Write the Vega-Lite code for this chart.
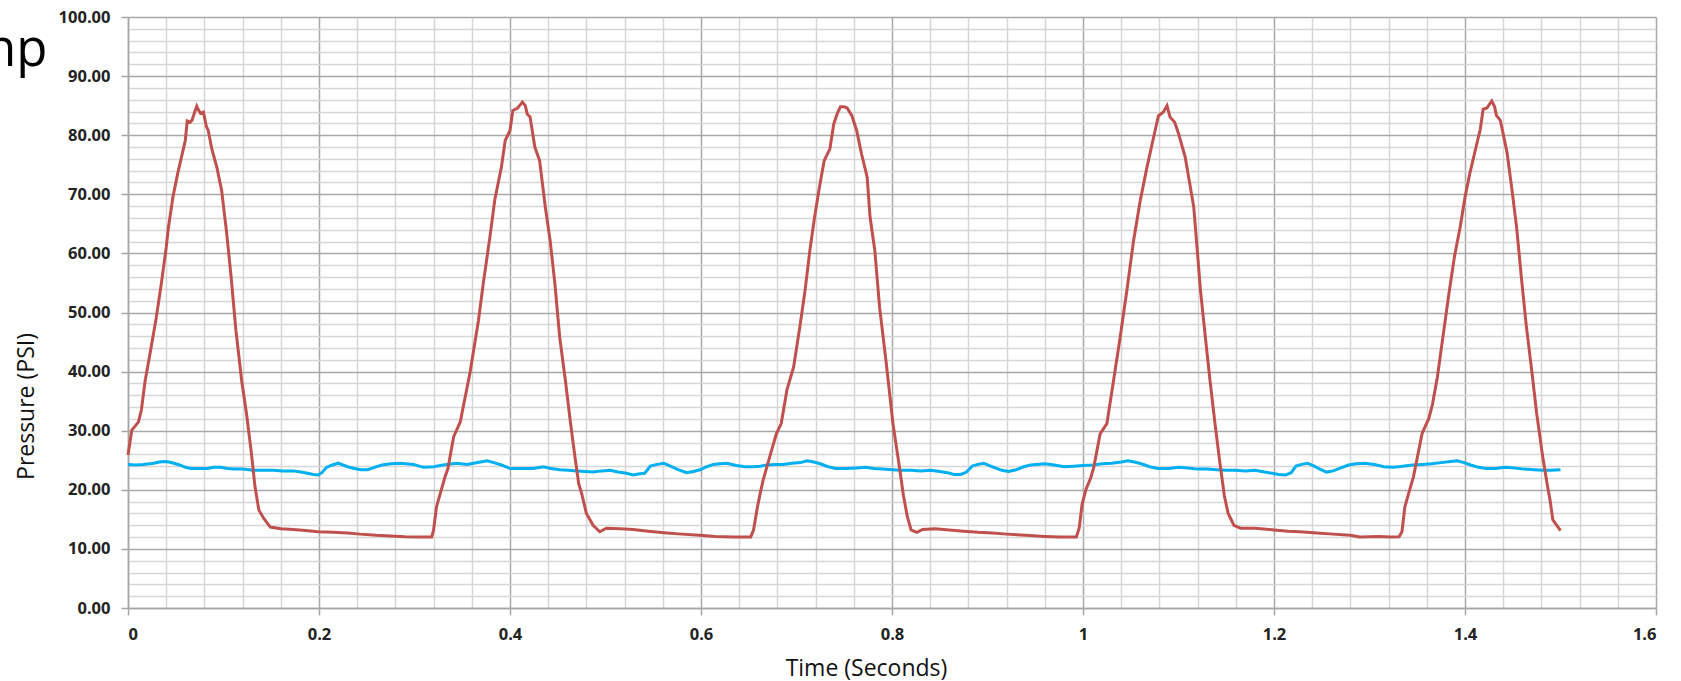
{
  "$schema": "https://vega.github.io/schema/vega-lite/v6.json",
  "width": 1528,
  "height": 591,
  "autosize": {"type": "none"},
  "padding": {"left": 128, "top": 17, "right": 25, "bottom": 73},
  "background": "white",
  "title": {"text": "np", "orient": "top", "anchor": "start", "frame": "group", "baseline": "alphabetic", "offset": -57, "dy": 51, "dx": -143, "font": "Open Sans", "fontSize": 51, "fontWeight": "normal", "color": "#000000"},
  "config": {"view": {"stroke": null}},
  "datasets": {
    "blue": [
      {"t":0.000,"p":24.3},{"t":0.008,"p":24.2},{"t":0.016,"p":24.3},{"t":0.027,"p":24.5},{"t":0.033,"p":24.7},{"t":0.038,"p":24.8},{"t":0.043,"p":24.7},{"t":0.048,"p":24.5},{"t":0.054,"p":24.2},{"t":0.060,"p":23.8},{"t":0.066,"p":23.6},{"t":0.075,"p":23.6},{"t":0.083,"p":23.6},{"t":0.090,"p":23.8},{"t":0.097,"p":23.8},{"t":0.104,"p":23.6},{"t":0.111,"p":23.5},{"t":0.120,"p":23.5},{"t":0.131,"p":23.3},{"t":0.142,"p":23.3},{"t":0.152,"p":23.3},{"t":0.162,"p":23.2},{"t":0.173,"p":23.2},{"t":0.181,"p":23.0},{"t":0.188,"p":22.8},{"t":0.194,"p":22.6},{"t":0.199,"p":22.5},{"t":0.203,"p":22.9},{"t":0.208,"p":23.8},{"t":0.214,"p":24.2},{"t":0.220,"p":24.5},{"t":0.225,"p":24.2},{"t":0.230,"p":23.9},{"t":0.237,"p":23.6},{"t":0.244,"p":23.4},{"t":0.251,"p":23.4},{"t":0.258,"p":23.8},{"t":0.266,"p":24.2},{"t":0.275,"p":24.4},{"t":0.285,"p":24.5},{"t":0.299,"p":24.3},{"t":0.305,"p":24.0},{"t":0.310,"p":23.8},{"t":0.320,"p":23.9},{"t":0.330,"p":24.2},
      {"t":0.344,"p":24.5},{"t":0.355,"p":24.3},{"t":0.362,"p":24.5},{"t":0.369,"p":24.7},{"t":0.376,"p":24.9},{"t":0.383,"p":24.6},{"t":0.391,"p":24.2},{"t":0.400,"p":23.6},{"t":0.412,"p":23.6},{"t":0.424,"p":23.6},{"t":0.435,"p":23.9},{"t":0.443,"p":23.6},{"t":0.452,"p":23.4},{"t":0.461,"p":23.3},{"t":0.470,"p":23.2},{"t":0.479,"p":23.1},{"t":0.487,"p":23.0},{"t":0.496,"p":23.2},{"t":0.505,"p":23.3},{"t":0.513,"p":23.0},{"t":0.522,"p":22.8},{"t":0.529,"p":22.5},{"t":0.536,"p":22.7},{"t":0.541,"p":22.8},{"t":0.547,"p":24.0},{"t":0.554,"p":24.3},{"t":0.561,"p":24.5},{"t":0.568,"p":24.0},{"t":0.576,"p":23.4},{"t":0.585,"p":22.9},{"t":0.592,"p":23.1},{"t":0.599,"p":23.4},{"t":0.606,"p":23.9},{"t":0.613,"p":24.3},{"t":0.620,"p":24.4},{"t":0.627,"p":24.5},{"t":0.637,"p":24.1},{"t":0.646,"p":23.9},{"t":0.655,"p":23.9},{"t":0.662,"p":24.0},{"t":0.669,"p":24.2},
      {"t":0.678,"p":24.3},{"t":0.686,"p":24.3},{"t":0.695,"p":24.5},{"t":0.704,"p":24.6},{"t":0.711,"p":24.9},{"t":0.718,"p":24.7},{"t":0.725,"p":24.4},{"t":0.733,"p":23.9},{"t":0.741,"p":23.6},{"t":0.752,"p":23.6},{"t":0.763,"p":23.7},{"t":0.772,"p":23.8},{"t":0.781,"p":23.6},{"t":0.790,"p":23.5},{"t":0.800,"p":23.4},{"t":0.810,"p":23.3},{"t":0.820,"p":23.3},{"t":0.830,"p":23.2},{"t":0.840,"p":23.3},{"t":0.850,"p":23.1},{"t":0.858,"p":22.9},{"t":0.865,"p":22.6},{"t":0.872,"p":22.6},{"t":0.878,"p":23.0},{"t":0.884,"p":24.0},{"t":0.890,"p":24.3},{"t":0.896,"p":24.5},{"t":0.902,"p":24.1},{"t":0.908,"p":23.7},{"t":0.915,"p":23.3},{"t":0.922,"p":23.1},{"t":0.930,"p":23.4},{"t":0.938,"p":23.9},{"t":0.945,"p":24.2},{"t":0.951,"p":24.3},{"t":0.960,"p":24.4},{"t":0.970,"p":24.2},{"t":0.980,"p":23.9},{"t":0.990,"p":24.0},{"t":1.000,"p":24.1},{"t":1.010,"p":24.2},
      {"t":1.020,"p":24.4},{"t":1.030,"p":24.5},{"t":1.040,"p":24.7},{"t":1.047,"p":24.9},{"t":1.054,"p":24.7},{"t":1.061,"p":24.4},{"t":1.070,"p":23.9},{"t":1.078,"p":23.6},{"t":1.090,"p":23.6},{"t":1.100,"p":23.8},{"t":1.110,"p":23.7},{"t":1.120,"p":23.5},{"t":1.130,"p":23.5},{"t":1.140,"p":23.4},{"t":1.150,"p":23.3},{"t":1.160,"p":23.3},{"t":1.170,"p":23.2},{"t":1.180,"p":23.3},{"t":1.190,"p":23.0},{"t":1.198,"p":22.8},{"t":1.205,"p":22.6},{"t":1.212,"p":22.5},{"t":1.218,"p":22.9},{"t":1.223,"p":24.0},{"t":1.229,"p":24.3},{"t":1.235,"p":24.5},{"t":1.241,"p":24.1},{"t":1.248,"p":23.5},{"t":1.255,"p":23.0},{"t":1.262,"p":23.2},{"t":1.270,"p":23.7},{"t":1.278,"p":24.2},{"t":1.286,"p":24.4},{"t":1.295,"p":24.5},{"t":1.305,"p":24.3},{"t":1.315,"p":23.9},{"t":1.325,"p":23.8},{"t":1.335,"p":24.0},{"t":1.345,"p":24.2},
      {"t":1.356,"p":24.3},{"t":1.365,"p":24.4},{"t":1.375,"p":24.6},{"t":1.385,"p":24.8},{"t":1.392,"p":24.9},{"t":1.399,"p":24.6},{"t":1.406,"p":24.2},{"t":1.414,"p":23.8},{"t":1.422,"p":23.6},{"t":1.432,"p":23.6},{"t":1.442,"p":23.8},{"t":1.452,"p":23.7},{"t":1.462,"p":23.5},{"t":1.472,"p":23.4},{"t":1.482,"p":23.3},{"t":1.490,"p":23.3},{"t":1.500,"p":23.4}
    ],
    "red": [
      {"t":0.000,"p":25.9},{"t":0.004,"p":30.1},{"t":0.011,"p":31.5},{"t":0.014,"p":33.5},{"t":0.018,"p":38.5},{"t":0.023,"p":43.0},{"t":0.029,"p":48.5},{"t":0.035,"p":55.0},{"t":0.040,"p":61.0},{"t":0.042,"p":64.0},{"t":0.047,"p":69.5},{"t":0.052,"p":73.5},{"t":0.056,"p":76.3},{"t":0.060,"p":79.1},{"t":0.062,"p":82.4},{"t":0.065,"p":82.2},{"t":0.067,"p":82.5},{"t":0.070,"p":84.0},{"t":0.072,"p":84.9},{"t":0.074,"p":84.2},{"t":0.076,"p":83.7},{"t":0.079,"p":83.9},{"t":0.082,"p":81.5},{"t":0.084,"p":80.8},{"t":0.088,"p":77.5},{"t":0.093,"p":74.6},{"t":0.098,"p":70.7},{"t":0.103,"p":63.9},{"t":0.108,"p":56.0},{"t":0.113,"p":47.0},{"t":0.119,"p":38.5},{"t":0.124,"p":33.0},{"t":0.129,"p":26.5},{"t":0.133,"p":20.5},{"t":0.137,"p":16.6},{"t":0.142,"p":15.2},{"t":0.149,"p":13.7},{"t":0.160,"p":13.4},{"t":0.173,"p":13.3},{"t":0.186,"p":13.1},{"t":0.199,"p":12.9},{"t":0.215,"p":12.8},{"t":0.230,"p":12.7},{"t":0.243,"p":12.5},{"t":0.260,"p":12.3},{"t":0.275,"p":12.2},{"t":0.290,"p":12.05},{"t":0.305,"p":12.0},{"t":0.318,"p":12.0},
      {"t":0.320,"p":13.2},{"t":0.323,"p":17.1},{"t":0.327,"p":19.4},{"t":0.332,"p":22.2},{"t":0.335,"p":23.6},{"t":0.341,"p":29.0},{"t":0.348,"p":31.5},{"t":0.351,"p":34.0},{"t":0.358,"p":39.7},{"t":0.367,"p":48.7},{"t":0.372,"p":54.9},{"t":0.379,"p":62.8},{"t":0.384,"p":69.0},{"t":0.391,"p":74.6},{"t":0.395,"p":79.1},{"t":0.400,"p":80.8},{"t":0.403,"p":84.2},{"t":0.408,"p":84.6},{"t":0.410,"p":85.0},{"t":0.413,"p":85.6},{"t":0.416,"p":85.0},{"t":0.418,"p":83.6},{"t":0.421,"p":83.1},{"t":0.426,"p":78.0},{"t":0.431,"p":75.7},{"t":0.437,"p":67.8},{"t":0.442,"p":62.2},{"t":0.447,"p":54.9},{"t":0.452,"p":45.9},{"t":0.458,"p":38.5},{"t":0.463,"p":31.8},{"t":0.468,"p":25.6},{"t":0.472,"p":21.0},{"t":0.475,"p":19.4},{"t":0.480,"p":16.0},{"t":0.487,"p":14.0},{"t":0.494,"p":12.9},{"t":0.501,"p":13.5},{"t":0.515,"p":13.4},{"t":0.529,"p":13.3},{"t":0.545,"p":13.0},{"t":0.564,"p":12.7},{"t":0.580,"p":12.5},{"t":0.599,"p":12.3},{"t":0.615,"p":12.1},{"t":0.634,"p":12.0},{"t":0.652,"p":12.0},
      {"t":0.655,"p":13.2},{"t":0.659,"p":17.0},{"t":0.662,"p":19.4},{"t":0.665,"p":21.6},{"t":0.672,"p":25.6},{"t":0.679,"p":29.5},{"t":0.684,"p":31.2},{"t":0.690,"p":36.9},{"t":0.697,"p":40.8},{"t":0.704,"p":48.1},{"t":0.709,"p":53.8},{"t":0.714,"p":60.5},{"t":0.719,"p":66.2},{"t":0.724,"p":71.2},{"t":0.729,"p":75.7},{"t":0.735,"p":77.7},{"t":0.739,"p":81.9},{"t":0.743,"p":83.8},{"t":0.746,"p":84.8},{"t":0.750,"p":84.8},{"t":0.753,"p":84.6},{"t":0.758,"p":83.3},{"t":0.763,"p":80.8},{"t":0.768,"p":76.9},{"t":0.774,"p":72.9},{"t":0.777,"p":66.2},{"t":0.782,"p":60.5},{"t":0.787,"p":50.9},{"t":0.794,"p":41.4},{"t":0.801,"p":31.2},{"t":0.808,"p":23.6},{"t":0.812,"p":19.0},{"t":0.816,"p":15.5},{"t":0.820,"p":13.2},{"t":0.826,"p":12.8},{"t":0.832,"p":13.3},{"t":0.845,"p":13.4},{"t":0.860,"p":13.2},{"t":0.875,"p":13.0},{"t":0.890,"p":12.8},{"t":0.905,"p":12.7},{"t":0.920,"p":12.5},{"t":0.940,"p":12.3},{"t":0.960,"p":12.1},{"t":0.975,"p":12.0},{"t":0.993,"p":12.0},
      {"t":0.996,"p":13.5},{"t":0.999,"p":17.5},{"t":1.003,"p":20.0},{"t":1.008,"p":22.0},{"t":1.011,"p":23.6},{"t":1.018,"p":29.5},{"t":1.025,"p":31.2},{"t":1.032,"p":38.5},{"t":1.039,"p":45.9},{"t":1.046,"p":53.8},{"t":1.053,"p":62.2},{"t":1.060,"p":69.0},{"t":1.067,"p":74.6},{"t":1.074,"p":79.7},{"t":1.079,"p":83.3},{"t":1.084,"p":83.9},{"t":1.088,"p":85.0},{"t":1.091,"p":83.1},{"t":1.096,"p":82.2},{"t":1.100,"p":80.3},{"t":1.107,"p":76.3},{"t":1.116,"p":67.8},{"t":1.123,"p":53.8},{"t":1.128,"p":46.0},{"t":1.133,"p":38.5},{"t":1.138,"p":31.5},{"t":1.143,"p":25.0},{"t":1.148,"p":19.0},{"t":1.152,"p":16.0},{"t":1.158,"p":14.0},{"t":1.165,"p":13.5},{"t":1.180,"p":13.5},{"t":1.200,"p":13.2},{"t":1.215,"p":13.0},{"t":1.227,"p":12.9},{"t":1.245,"p":12.7},{"t":1.262,"p":12.5},{"t":1.280,"p":12.3},{"t":1.290,"p":12.0},{"t":1.310,"p":12.1},{"t":1.322,"p":12.0},{"t":1.331,"p":12.05},
      {"t":1.334,"p":12.9},{"t":1.337,"p":17.1},{"t":1.341,"p":19.4},{"t":1.346,"p":22.2},{"t":1.351,"p":26.2},{"t":1.355,"p":29.5},{"t":1.359,"p":31.0},{"t":1.362,"p":32.0},{"t":1.366,"p":34.5},{"t":1.371,"p":39.0},{"t":1.377,"p":46.0},{"t":1.383,"p":53.0},{"t":1.389,"p":59.5},{"t":1.395,"p":64.5},{"t":1.400,"p":69.5},{"t":1.405,"p":73.5},{"t":1.412,"p":78.3},{"t":1.416,"p":81.0},{"t":1.419,"p":84.4},{"t":1.423,"p":84.6},{"t":1.428,"p":85.8},{"t":1.431,"p":84.8},{"t":1.433,"p":83.3},{"t":1.437,"p":82.5},{"t":1.444,"p":77.1},{"t":1.449,"p":71.0},{"t":1.454,"p":64.5},{"t":1.459,"p":56.0},{"t":1.464,"p":48.0},{"t":1.470,"p":40.0},{"t":1.475,"p":33.0},{"t":1.481,"p":26.0},{"t":1.486,"p":21.0},{"t":1.489,"p":18.3},{"t":1.492,"p":14.9},{"t":1.500,"p":13.1}
    ]
  },
  "layer": [
    {
      "data": {"name": "blue"},
      "mark": {"type": "line", "color": "#00B0F0", "strokeWidth": 3},
      "encoding": {
        "x": {"field": "t", "type": "quantitative", "scale": {"domain": [0, 1.6], "nice": false, "zero": true},
          "axis": {"orient": "bottom", "grid": true, "gridColor": "#d6d6d6", "gridWidth": 1.5, "labels": false, "ticks": false, "domain": false, "title": null,
            "values": [0.04,0.08,0.12,0.16,0.24,0.28,0.32,0.36,0.44,0.48,0.52,0.56,0.64,0.68,0.72,0.76,0.84,0.88,0.92,0.96,1.04,1.08,1.12,1.16,1.24,1.28,1.32,1.36,1.44,1.48,1.52,1.56]}},
        "y": {"field": "p", "type": "quantitative", "scale": {"domain": [0, 100], "nice": false},
          "axis": {"orient": "left", "grid": true, "gridColor": "#d6d6d6", "gridWidth": 1.5, "labels": false, "ticks": false, "domain": false, "title": null,
            "values": [2,4,6,8,12,14,16,18,22,24,26,28,32,34,36,38,42,44,46,48,52,54,56,58,62,64,66,68,72,74,76,78,82,84,86,88,92,94,96,98]}}
      }
    },
    {
      "data": {"name": "red"},
      "mark": {"type": "line", "color": "#C0504D", "strokeWidth": 3},
      "encoding": {
        "x": {"field": "t", "type": "quantitative",
          "axis": {"orient": "bottom", "grid": true, "gridColor": "#a8a8a8", "gridWidth": 1.5, "values": [0,0.2,0.4,0.6,0.8,1,1.2,1.4,1.6], "format": "~g",
            "domainColor": "#a6a6a6", "domainWidth": 1.5, "tickColor": "#a6a6a6", "tickWidth": 1.5, "tickSize": 7,
            "labelFont": "Open Sans", "labelFontWeight": "bold", "labelFontSize": 16.5, "labelColor": "#222222", "labelPadding": 11,
            "title": "Time (Seconds)", "titleFont": "Open Sans", "titleFontSize": 23, "titleFontWeight": "normal", "titleColor": "#111111",
            "titleX": 738, "titleY": 67, "titleAlign": "center", "titleBaseline": "alphabetic"}},
        "y": {"field": "p", "type": "quantitative",
          "axis": {"orient": "left", "grid": true, "gridColor": "#a8a8a8", "gridWidth": 1.5, "values": [0,10,20,30,40,50,60,70,80,90,100], "format": ".2f",
            "domainColor": "#a6a6a6", "domainWidth": 1.5, "tickColor": "#a6a6a6", "tickWidth": 1.5, "tickSize": 7,
            "labelFont": "Open Sans", "labelFontWeight": "bold", "labelFontSize": 16.5, "labelColor": "#222222", "labelPadding": 11,
            "title": "Pressure (PSI)", "titleFont": "Open Sans", "titleFontSize": 23, "titleFontWeight": "normal", "titleColor": "#111111",
            "titleX": -95, "titleY": 389, "titleAngle": -90, "titleAlign": "center", "titleBaseline": "alphabetic"}}
      }
    }
  ],
  "resolve": {"axis": {"x": "independent", "y": "independent"}}
}
